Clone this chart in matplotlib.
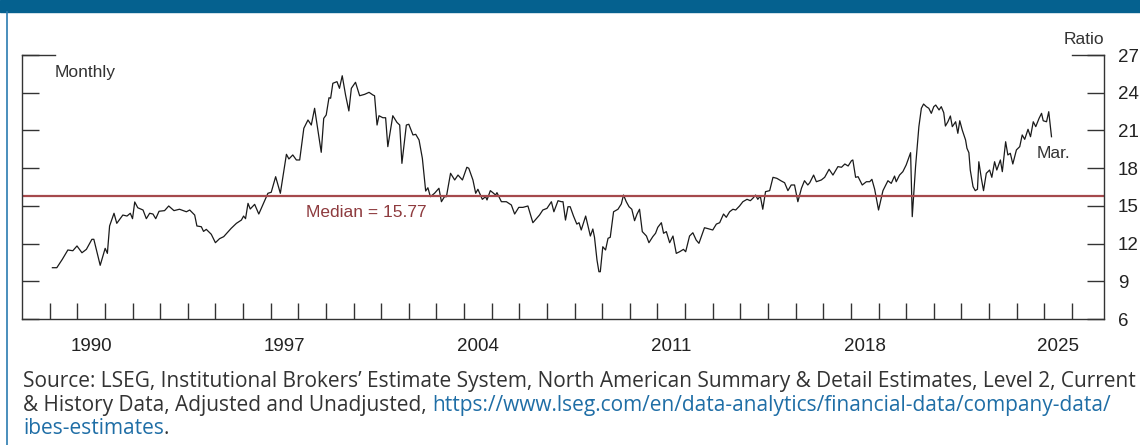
import matplotlib
matplotlib.use("Agg")
import matplotlib.pyplot as plt
from matplotlib.patches import Rectangle
from matplotlib.lines import Line2D
from matplotlib.ticker import FixedLocator, FixedFormatter, NullFormatter

plt.rcParams['font.family'] = ['Liberation Sans', 'DejaVu Sans']

# monthly forward P/E ratio (decimal years)
dates = [
    1989.10, 1989.26, 1989.46, 1989.66, 1989.84, 1989.99, 1990.17, 1990.33, 1990.53, 1990.60,
    1990.83, 1991.01, 1991.09, 1991.17, 1991.33, 1991.43, 1991.65, 1991.80, 1991.92, 1992.00,
    1992.08, 1992.19, 1992.38, 1992.50, 1992.62, 1992.74, 1992.84, 1992.96, 1993.16, 1993.31,
    1993.50, 1993.70, 1993.95, 1994.07, 1994.25, 1994.33, 1994.49, 1994.57, 1994.67, 1994.85,
    1995.00, 1995.15, 1995.30, 1995.57, 1995.76, 1995.94, 1996.02, 1996.09, 1996.18, 1996.26,
    1996.42, 1996.57, 1996.74, 1996.90, 1997.02, 1997.18, 1997.35, 1997.57, 1997.66, 1997.80,
    1997.93, 1998.05, 1998.20, 1998.35, 1998.47, 1998.59, 1998.83, 1998.92, 1999.01, 1999.11,
    1999.17, 1999.25, 1999.40, 1999.49, 1999.59, 1999.71, 1999.83, 1999.92, 2000.07, 2000.22,
    2000.40, 2000.56, 2000.70, 2000.76, 2000.85, 2000.92, 2001.06, 2001.16, 2001.24, 2001.42,
    2001.57, 2001.67, 2001.75, 2001.91, 2002.00, 2002.15, 2002.25, 2002.37, 2002.49, 2002.61,
    2002.69, 2002.78, 2002.93, 2003.09, 2003.18, 2003.29, 2003.36, 2003.51, 2003.66, 2003.78,
    2003.94, 2004.10, 2004.17, 2004.32, 2004.42, 2004.50, 2004.66, 2004.78, 2004.83, 2004.95,
    2005.04, 2005.14, 2005.19, 2005.35, 2005.53, 2005.71, 2005.83, 2005.98, 2006.13, 2006.31,
    2006.49, 2006.73, 2006.85, 2007.00, 2007.16, 2007.25, 2007.40, 2007.52, 2007.58, 2007.67,
    2007.76, 2007.84, 2007.96, 2008.08, 2008.16, 2008.24, 2008.40, 2008.57, 2008.66, 2008.72,
    2008.81, 2008.88, 2008.93, 2009.02, 2009.12, 2009.21, 2009.29, 2009.41, 2009.57, 2009.69,
    2009.77, 2009.87, 2009.97, 2010.07, 2010.17, 2010.26, 2010.35, 2010.45, 2010.60, 2010.69,
    2010.83, 2010.93, 2011.01, 2011.14, 2011.22, 2011.32, 2011.44, 2011.56, 2011.68, 2011.80,
    2011.94, 2012.02, 2012.16, 2012.28, 2012.40, 2012.50, 2012.70, 2012.79, 2013.00, 2013.13,
    2013.25, 2013.39, 2013.49, 2013.61, 2013.73, 2013.83, 2013.97, 2014.09, 2014.24, 2014.36,
    2014.45, 2014.55, 2014.63, 2014.72, 2014.81, 2014.91, 2015.06, 2015.18, 2015.32, 2015.48,
    2015.60, 2015.72, 2015.84, 2015.96, 2016.08, 2016.21, 2016.32, 2016.44, 2016.51, 2016.65,
    2016.75, 2016.93, 2017.05, 2017.21, 2017.35, 2017.53, 2017.66, 2017.78, 2017.90, 2018.02,
    2018.07, 2018.17, 2018.26, 2018.41, 2018.56, 2018.68, 2018.76, 2018.86, 2019.00, 2019.16,
    2019.34, 2019.46, 2019.58, 2019.64, 2019.76, 2019.88, 2020.00, 2020.16, 2020.22, 2020.34,
    2020.46, 2020.55, 2020.63, 2020.73, 2020.82, 2020.91, 2021.00, 2021.07, 2021.19, 2021.27,
    2021.36, 2021.42, 2021.51, 2021.60, 2021.67, 2021.79, 2021.87, 2021.94, 2022.03, 2022.15,
    2022.20, 2022.27, 2022.32, 2022.42, 2022.50, 2022.58, 2022.63, 2022.72, 2022.80, 2022.90,
    2023.02, 2023.10, 2023.20, 2023.28, 2023.41, 2023.48, 2023.60, 2023.68, 2023.77, 2023.86,
    2023.99, 2024.11, 2024.20, 2024.29, 2024.41, 2024.50, 2024.60, 2024.69, 2024.81, 2024.90,
    2024.96, 2025.08, 2025.16, 2025.26,
]
ratio = [
    10.08, 10.08, 10.75, 11.49, 11.43, 11.81, 11.27, 11.54, 12.34, 12.34,
    10.27, 11.62, 11.22, 13.40, 14.41, 13.61, 14.27, 14.19, 14.41, 13.98,
    15.31, 14.85, 14.67, 13.98, 14.41, 14.35, 13.98, 14.57, 14.62, 14.99,
    14.62, 14.73, 14.53, 14.67, 14.27, 13.40, 13.34, 12.97, 13.13, 12.74,
    12.07, 12.39, 12.55, 13.21, 13.61, 13.87, 14.19, 13.98, 15.20, 14.75,
    15.12, 14.35, 15.20, 16.00, 16.08, 17.32, 16.00, 19.10, 18.73, 19.05,
    18.65, 18.65, 21.17, 21.83, 21.43, 22.76, 19.26, 21.96, 22.23, 23.60,
    23.56, 24.75, 24.88, 24.35, 25.35, 23.82, 22.55, 24.35, 24.83, 23.76,
    23.87, 24.03, 23.82, 23.76, 21.43, 22.17, 22.01, 22.01, 19.71, 22.17,
    21.64, 21.43, 18.38, 21.43, 21.49, 20.64, 20.69, 20.24, 18.78, 16.18,
    16.44, 15.73, 16.00, 16.40, 15.33, 15.73, 15.73, 17.59, 17.06, 17.45,
    17.06, 18.07, 17.99, 17.06, 16.00, 16.32, 15.52, 15.73, 15.47, 16.21,
    16.05, 15.86, 16.05, 15.33, 15.33, 15.07, 14.35, 14.88, 14.88, 14.99,
    13.66, 14.27, 14.67, 14.80, 15.33, 14.53, 15.41, 15.33, 15.33, 13.87,
    14.93, 14.93, 14.19, 13.55, 13.66, 13.08, 14.19, 12.60, 13.16, 12.50,
    10.69, 9.76, 9.76, 11.75, 11.49, 12.42, 12.50, 14.53, 14.73, 15.15,
    15.86, 15.33, 14.93, 14.73, 13.82, 14.35, 14.73, 12.95, 12.60, 12.07,
    12.55, 12.82, 13.29, 13.66, 12.82, 12.95, 12.07, 12.60, 11.22, 11.35,
    11.54, 11.35, 12.60, 12.86, 12.28, 12.02, 13.26, 13.21, 13.08, 13.55,
    13.66, 14.35, 14.09, 14.53, 14.73, 14.67, 14.99, 15.33, 15.52, 15.41,
    15.60, 15.86, 15.52, 15.78, 14.73, 16.13, 16.21, 17.27, 17.19, 16.98,
    16.84, 16.21, 16.66, 16.66, 15.33, 16.40, 17.00, 16.66, 16.84, 17.45,
    16.92, 17.06, 17.27, 17.91, 17.45, 18.12, 18.07, 18.33, 18.17, 18.59,
    18.65, 17.27, 17.32, 16.66, 16.92, 16.92, 17.11, 16.32, 14.67, 16.21,
    17.00, 16.79, 17.37, 16.92, 17.45, 17.72, 18.25, 19.23, 14.14, 18.12,
    21.30, 22.76, 23.10, 22.89, 22.76, 22.36, 22.89, 23.02, 22.63, 22.89,
    22.41, 21.35, 21.69, 22.15, 21.30, 21.69, 20.77, 21.77, 21.03, 20.24,
    19.58, 19.23, 17.85, 16.53, 16.21, 16.32, 18.51, 17.19, 16.21, 17.59,
    17.85, 17.27, 18.51, 17.85, 18.65, 17.72, 20.10, 19.05, 19.18, 18.33,
    19.45, 19.71, 20.64, 20.29, 21.09, 20.50, 21.69, 21.30, 21.96, 22.36,
    21.77, 21.69, 22.49, 20.50,
]
median = 15.77
y_ticks = [6, 9, 12, 15, 18, 21, 24, 27]
year_ticks = list(range(1989, 2027))
year_labels = [1990, 1997, 2004, 2011, 2018, 2025]

W, H = 1140, 445
dark = '#333333'
fig = plt.figure(figsize=(W / 100, H / 100), dpi=100)
ax = fig.add_axes([22 / W, 126 / H, 1082 / W, 264 / H])

ax.plot(dates, ratio, color='#1a1a1a', lw=0.9)
ax.axhline(median, color='#a5494c', lw=1.6)
ax.text(1998.27, 14.5, 'Median = 15.77', color='#8e3b3e', fontsize=12.5, va='center')
ax.text(2024.71, 19.2, 'Mar.', color=dark, fontsize=12.5, va='center')

ax.set_xlim(1988, 2027.16)
ax.set_ylim(6, 27)

for s in ['left', 'right', 'bottom']:
    ax.spines[s].set_color(dark)
    ax.spines[s].set_linewidth(1.0)
ax.spines['top'].set_visible(False)

ax.xaxis.set_major_locator(FixedLocator(year_ticks))
ax.xaxis.set_major_formatter(NullFormatter())
ax.xaxis.set_minor_locator(FixedLocator([y + 0.5 for y in year_labels]))
ax.xaxis.set_minor_formatter(FixedFormatter([str(y) for y in year_labels]))
ax.tick_params(axis='x', which='major', direction='in', length=11.5, width=1, color=dark)
ax.tick_params(axis='x', which='minor', length=0, pad=14, labelsize=13.5, labelcolor='#222222')

ax.set_yticks(y_ticks)
ax.tick_params(axis='y', direction='in', length=12, width=1, color=dark,
               left=True, right=True, labelleft=False, labelright=True,
               pad=10, labelsize=13.5, labelcolor='#222222')

# longer caps at the top of both vertical frames
ax.plot([0, 33 / 1082], [1, 1], transform=ax.transAxes, clip_on=False, color=dark, lw=1.0)
ax.plot([1 - 32 / 1082, 1], [1, 1], transform=ax.transAxes, clip_on=False, color=dark, lw=1.0)

fig.text(55 / W, 1 - 72 / H, 'Monthly', color=dark, fontsize=12.5, va='center')
fig.text(1104 / W, 1 - 40 / H, 'Ratio', color=dark, fontsize=12.5, va='center', ha='right')

# banner and frame
fig.patches.append(Rectangle((0, 1 - 12 / H), 1, 12 / H, transform=fig.transFigure,
                             color='#05618f', zorder=0))
fig.lines.append(Line2D([6.5 / W, 6.5 / W], [0, 1 - 12 / H], transform=fig.transFigure,
                        color='#2b7bb0', lw=1.2))

# source note with link in blue; font size fitted so line 1 spans the panel
link = '#1f6ea6'
src_font = ['Open Sans', 'DejaVu Sans']
x0 = 23 / W
r = fig.canvas.get_renderer()
t0 = fig.text(x0, 1 - 382 / H, 'Source: LSEG, Institutional Brokers\u2019 Estimate System, North American '
              'Summary & Detail Estimates, Level 2, Current', color=dark, fontsize=13,
              family=src_font, va='center')
fs = 13 * 1108 / t0.get_window_extent(r).width
t0.set_fontsize(fs)
t1 = fig.text(x0, 1 - 406 / H, '& History Data, Adjusted and Unadjusted, ', color=dark,
              fontsize=fs, family=src_font, va='center')
w1 = t1.get_window_extent(r).width / W
fig.text(x0 + w1, 1 - 406 / H, 'https://www.lseg.com/en/data-analytics/financial-data/company-data/',
         color=link, fontsize=fs, family=src_font, va='center')
t3 = fig.text(x0, 1 - 429 / H, 'ibes-estimates', color=link, fontsize=fs, family=src_font, va='center')
w3 = t3.get_window_extent(r).width / W
fig.text(x0 + w3, 1 - 429 / H, '.', color=dark, fontsize=fs, family=src_font, va='center')

fig.savefig('out.png', dpi=100)
